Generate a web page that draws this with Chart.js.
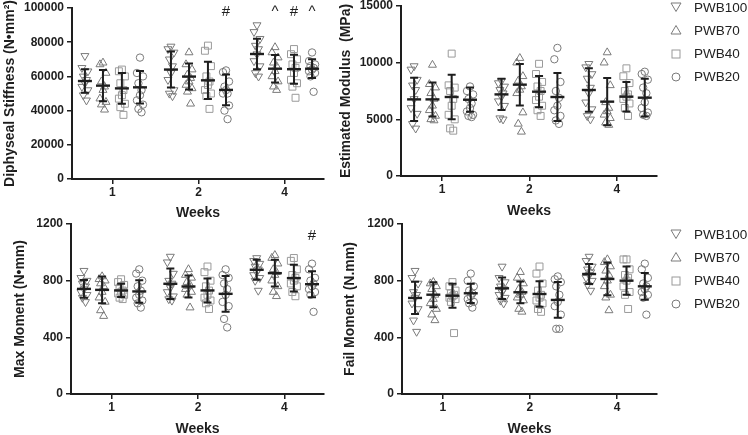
<!DOCTYPE html>
<html>
<head>
<meta charset="utf-8">
<script src="https://cdn.jsdelivr.net/npm/chart.js@4.4.1/dist/chart.umd.min.js"></script>
<style>
  body { margin: 0; width: 748px; height: 435px; overflow: hidden; background: #fff; position: relative;
         font-family: "Liberation Sans", Arial, sans-serif; }
  canvas { position: absolute; }
  .legend { position: absolute; left: 670px; font-size: 13.5px; color: #222; }
  .legend .row { height: 23.3px; display: flex; align-items: center; }
  .legend svg { margin-right: 12px; }
</style>
</head>
<body>
<script>
const weekLabels = ['1', '2', '4'];
const groups = ['PWB100', 'PWB70', 'PWB40', 'PWB20'];

// Diphyseal stiffness (N•mm²), one row per week
const stiffPWB100 = [[72000, 65000, 63000, 60000, 58000, 56000, 54000, 52000, 49000, 46000],
                     [77500, 76000, 74000, 70000, 66000, 62000, 58000, 52000, 50000, 48500],
                     [90000, 86000, 82000, 78000, 76000, 73000, 69000, 66000, 62000, 60000]];
const stiffPWB70 = [[68000, 67000, 62000, 57000, 54000, 52000, 47000, 45000, 43500, 40500],
                    [74000, 67000, 64000, 61000, 59000, 57000, 55000, 53000, 51000, 44000],
                    [77000, 74000, 71000, 68000, 66000, 63000, 60000, 57000, 54000, 52000]];
const stiffPWB40 = [[64000, 63000, 60000, 56000, 52000, 49000, 47000, 44000, 42000, 37500],
                    [78000, 75000, 66000, 60000, 57000, 55000, 52000, 50000, 48500, 41000],
                    [76000, 73000, 70000, 67000, 65000, 62000, 58000, 56000, 54000, 47500]];
const stiffPWB20 = [[71000, 62000, 60000, 56000, 52000, 49000, 46000, 43500, 41000, 39000],
                    [63500, 62500, 57000, 54000, 50000, 52000, 50000, 43000, 40000, 35000],
                    [74000, 69000, 67000, 66000, 65000, 64000, 63000, 62000, 60000, 51000]];
const stiffMean = [[57300, 64000, 73100], [54600, 59900, 64500], [53000, 57700, 64200], [53600, 52100, 64500]];
const stiffSD = [[6850, 10500, 8900], [9200, 7600, 8000], [9000, 10900, 8500], [9500, 9000, 5500]];
const stiffSymbols = [[1, 3, '#'], [2, 1, '^'], [2, 2, '#'], [2, 3, '^']];
const stiffSymbolY = 98000;

// Estimated modulus (MPa)
const modPWB100 = [[9700, 9400, 8500, 8000, 7600, 6800, 6000, 5500, 4600, 4200],
                   [8400, 8200, 7900, 7600, 7300, 7000, 6600, 6200, 5100, 5000],
                   [9900, 9600, 9000, 8600, 7800, 7300, 6500, 5900, 5300, 5000]];
const modPWB70 = [[9800, 8100, 7800, 7300, 6800, 6200, 5800, 5300, 5000, 4900],
                  [10400, 10000, 8800, 8400, 7900, 7600, 7300, 5600, 4600, 3900],
                  [10900, 10000, 8000, 6500, 6000, 5700, 5400, 5100, 4700, 4500]];
const modPWB40 = [[10800, 8000, 7800, 7500, 6800, 6200, 5400, 5000, 4200, 4000],
                  [9900, 9000, 8300, 7900, 7500, 7000, 6700, 6200, 5800, 5300],
                  [9500, 8800, 8200, 7500, 7200, 7000, 6800, 6400, 6000, 5300]];
const modPWB20 = [[7900, 7500, 7200, 6800, 6400, 6000, 5700, 5400, 5300, 5200],
                  [11300, 10300, 8300, 7500, 6900, 6200, 5800, 5300, 4900, 4600],
                  [9200, 9000, 8500, 7800, 7300, 6500, 6000, 5600, 5400, 5300]];
const modMean = [[6760, 7200, 7590], [6760, 8060, 6560], [6970, 7440, 7000], [6730, 6970, 6910]];
const modSD = [[1900, 1370, 1920], [1500, 1830, 2090], [1970, 1380, 1300], [1070, 2120, 1670]];

// Max moment (N•mm)
const maxPWB100 = [[870, 820, 800, 780, 760, 740, 720, 700, 680, 650],
                   [970, 930, 850, 800, 780, 750, 720, 690, 670, 660],
                   [960, 940, 920, 900, 880, 860, 840, 820, 800, 730]];
const maxPWB70 = [[830, 810, 800, 780, 760, 720, 680, 650, 590, 550],
                  [880, 840, 820, 790, 770, 760, 740, 720, 700, 610],
                  [980, 960, 920, 880, 860, 840, 800, 760, 720, 690]];
const maxPWB40 = [[810, 790, 770, 750, 730, 720, 710, 700, 680, 670],
                  [900, 860, 800, 760, 730, 700, 680, 660, 640, 600],
                  [960, 940, 880, 840, 820, 800, 780, 760, 720, 690]];
const maxPWB20 = [[880, 850, 800, 760, 730, 700, 680, 660, 640, 610],
                  [880, 840, 820, 780, 740, 700, 650, 620, 530, 470],
                  [920, 880, 820, 800, 780, 760, 740, 720, 700, 580]];
const maxMean = [[742, 778, 877], [735, 759, 853], [731, 731, 818], [724, 707, 775]];
const maxSD = [[62, 108, 70], [95, 77, 94], [47, 85, 94], [79, 126, 92]];
const maxSymbols = [[2, 3, '#']];
const maxSymbolY = 1115;

// Fail moment (N.mm)
const failPWB100 = [[870, 820, 780, 720, 700, 680, 640, 600, 520, 440],
                    [900, 820, 790, 760, 740, 720, 700, 680, 660, 640],
                    [970, 940, 900, 880, 860, 840, 820, 800, 770, 730]];
const failPWB70 = [[790, 780, 760, 740, 700, 670, 640, 600, 560, 520],
                   [860, 820, 780, 740, 720, 700, 680, 660, 600, 580],
                   [950, 930, 900, 870, 840, 800, 760, 700, 680, 590]];
const failPWB40 = [[790, 760, 730, 710, 700, 690, 680, 670, 650, 430],
                   [900, 850, 780, 730, 700, 680, 660, 640, 600, 580],
                   [950, 950, 880, 840, 820, 800, 760, 720, 700, 600]];
const failPWB20 = [[850, 800, 760, 730, 710, 690, 670, 650, 640, 610],
                   [830, 810, 790, 760, 700, 650, 620, 560, 460, 460],
                   [920, 880, 820, 780, 760, 740, 720, 700, 680, 560]];
const failMean = [[678, 746, 847], [701, 718, 812], [694, 706, 800], [711, 664, 760]];
const failSD = [[114, 76, 71], [88, 77, 115], [85, 90, 100], [68, 126, 95]];

// look
const ink = '#1e1e1e';
const markerColor = ['#7a7a7a', '#7a7a7a', '#9a9a9a', '#7a7a7a'];
const groupOffset = [-0.32, -0.11, 0.11, 0.32];
const spread = [0, -0.035, 0.035, -0.018, 0.018];
const pointStyles = ['triangle', 'triangle', 'rect', 'circle'];
const pointRotation = [180, 0, 0, 0];
const pointRadius = [4.6, 4.6, 4.9, 3.7];

function barsPlugin(means, sds, symbols, symbolY) {
  return {
    id: 'bars',
    afterDatasetsDraw(chart) {
      const {ctx, scales: {x, y}} = chart;
      ctx.save();
      ctx.strokeStyle = ink;
      ctx.lineWidth = 2;
      means.forEach((row, g) => row.forEach((m, w) => {
        const cx = x.getPixelForValue(w + 1 + groupOffset[g]);
        const yt = y.getPixelForValue(m + sds[g][w]);
        const yb = y.getPixelForValue(m - sds[g][w]);
        const ym = y.getPixelForValue(m);
        ctx.beginPath();
        ctx.moveTo(cx, yt); ctx.lineTo(cx, yb);
        ctx.moveTo(cx - 4, yt); ctx.lineTo(cx + 4, yt);
        ctx.moveTo(cx - 4, yb); ctx.lineTo(cx + 4, yb);
        ctx.stroke();
        ctx.lineWidth = 2.4;
        ctx.beginPath();
        ctx.moveTo(cx - 7, ym); ctx.lineTo(cx + 7, ym);
        ctx.stroke();
        ctx.lineWidth = 2;
      }));
      ctx.fillStyle = ink;
      ctx.font = '15px "Liberation Sans", Arial, sans-serif';
      ctx.textAlign = 'center';
      ctx.textBaseline = 'middle';
      (symbols || []).forEach(([w, g, t]) => {
        ctx.fillText(t, x.getPixelForValue(w + 1 + groupOffset[g]), y.getPixelForValue(symbolY));
      });
      ctx.restore();
    }
  };
}

function panel(box, yMax, yStep, yTitle, series, means, sds, symbols, symbolY) {
  const cv = document.createElement('canvas');
  cv.width = box.w; cv.height = box.h;
  cv.style.left = box.left + 'px'; cv.style.top = box.top + 'px';
  document.body.appendChild(cv);

  const datasets = series.map((weeks, g) => ({
    label: groups[g],
    data: weeks.flatMap((vals, w) => vals.map((v, i) => ({x: w + 1 + groupOffset[g] + spread[i % spread.length], y: v}))),
    pointStyle: pointStyles[g],
    rotation: pointRotation[g],
    pointRadius: pointRadius[g],
    borderColor: markerColor[g],
    backgroundColor: 'rgba(0,0,0,0)',
    borderWidth: 1,
    showLine: false
  }));

  const tickFont = {family: '"Liberation Sans", Arial, sans-serif', size: 12, weight: 'bold'};
  const titleFont = {family: '"Liberation Sans", Arial, sans-serif', size: 14, weight: 'bold'};

  new Chart(cv, {
    type: 'scatter',
    data: {datasets},
    options: {
      responsive: false,
      animation: false,
      devicePixelRatio: 1,
      layout: {padding: {top: box.padTop, right: box.padRight, left: 0, bottom: 0}},
      plugins: {legend: {display: false}, tooltip: {enabled: false}},
      scales: {
        x: {
          type: 'linear', min: 0.53, max: 3.46,
          afterBuildTicks: s => { s.ticks = [1, 2, 3].map(v => ({value: v})); },
          afterFit: s => { s.height = box.xAxisH; },
          ticks: {callback: v => weekLabels[v - 1], font: tickFont, color: ink, padding: 1, maxRotation: 0},
          grid: {drawOnChartArea: false, tickLength: 5, color: ink, lineWidth: 1.5},
          border: {color: ink, width: 2},
          title: {display: true, text: 'Weeks', font: titleFont, color: ink, padding: 0}
        },
        y: {
          min: 0, max: yMax,
          afterFit: s => { s.width = box.yAxisW; },
          ticks: {stepSize: yStep, callback: v => String(v), font: tickFont, color: ink, padding: 3},
          grid: {drawOnChartArea: false, tickLength: 5, color: ink, lineWidth: 1.5},
          border: {color: ink, width: 2},
          title: {display: true, text: yTitle, font: titleFont, color: ink, padding: {top: box.titlePad, bottom: 0}}
        }
      }
    },
    plugins: [barsPlugin(means, sds, symbols, symbolY)]
  });
}

function legend(top) {
  const shapes = [
    '<polygon points="1,2 11,2 6,10.5"/>',
    '<polygon points="1,10 11,10 6,1.5"/>',
    '<rect x="2" y="2" width="8" height="8"/>',
    '<circle cx="6" cy="6" r="4"/>'];
  const box = document.createElement('div');
  box.className = 'legend';
  box.style.top = top + 'px';
  box.innerHTML = groups.map((name, g) =>
    `<div class="row"><svg width="12" height="12" fill="none" stroke="${markerColor[g]}" stroke-width="1">${shapes[g]}</svg><span>${name}</span></div>`
  ).join('');
  document.body.appendChild(box);
}

panel({left: 0, top: -6, w: 330, h: 228, padTop: 14, padRight: 5, xAxisH: 43, yAxisW: 72, titlePad: 1.6},
      100000, 20000, 'Diphyseal Stiffness (N•mm²)',
      [stiffPWB100, stiffPWB70, stiffPWB40, stiffPWB20], stiffMean, stiffSD, stiffSymbols, stiffSymbolY);
panel({left: 330, top: -6, w: 418, h: 226, padTop: 12, padRight: 91, xAxisH: 44, yAxisW: 71, titlePad: 7.6},
      15000, 5000, 'Estimated Modulus  (MPa)',
      [modPWB100, modPWB70, modPWB40, modPWB20], modMean, modSD, null, 0);
panel({left: 0, top: 212, w: 330, h: 226, padTop: 12, padRight: 5, xAxisH: 44, yAxisW: 71, titlePad: 11.6},
      1200, 400, 'Max Moment (N•mm)',
      [maxPWB100, maxPWB70, maxPWB40, maxPWB20], maxMean, maxSD, maxSymbols, maxSymbolY);
panel({left: 330, top: 212, w: 418, h: 226, padTop: 12, padRight: 91, xAxisH: 44, yAxisW: 72, titlePad: 11.6},
      1200, 400, 'Fail Moment (N.mm)',
      [failPWB100, failPWB70, failPWB40, failPWB20], failMean, failSD, null, 0);

legend(-4.6);
legend(222.4);
</script>
</body>
</html>
